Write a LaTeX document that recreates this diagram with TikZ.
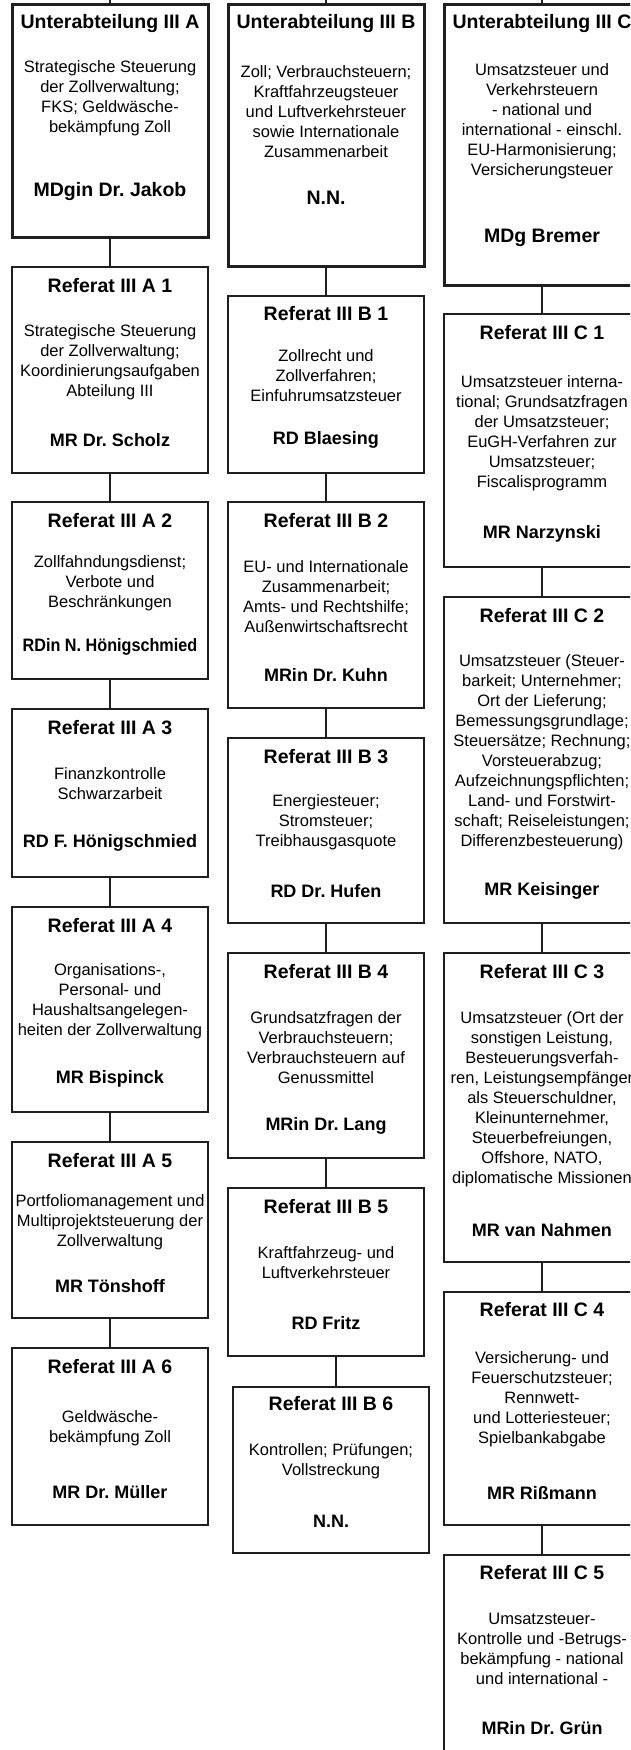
\documentclass[tikz,border=0pt]{standalone}
\usepackage{fontspec}
\setmainfont{Liberation Sans}
\begin{document}
\frenchspacing
\begin{tikzpicture}[x=1pt,y=-1pt,
  subbox/.style={draw=black!88, line width=3pt, rectangle, inner sep=0pt, minimum width=196pt},
  refbox/.style={draw=black!88, line width=1.3pt, rectangle, inner sep=0pt, minimum width=196pt},
  ttl/.style={inner sep=0pt, font=\frenchspacing\bfseries\fontsize{19.5}{23}\selectfont},
  unm/.style={inner sep=0pt, font=\frenchspacing\bfseries\fontsize{19.5}{23}\selectfont},
  nm/.style={inner sep=0pt, font=\frenchspacing\bfseries\fontsize{18}{22}\selectfont},
  body/.style={inner sep=0pt, align=center, font=\frenchspacing\fontsize{16.5}{20}\selectfont},
  conn/.style={draw=black!88, line width=1.3pt}]
\useasboundingbox (0,0) rectangle (630,1750);
\clip (0,0) rectangle (630,1750);
\fill[white] (0,0) rectangle (630,1750);

% ---------- column A ----------
\node[subbox, minimum height=232pt] (UA) at (110,121) {};
\node[ttl] (UAt) at (110,24) {Unterabteilung III A};
\node[body] (UAb) at (110,98.5) {Strategische Steuerung\\der Zollverwaltung;\\FKS; Geldwäsche-\\bekämpfung Zoll};
\node[unm] (UAn) at (110,192) {MDgin Dr. Jakob};

\node[refbox, minimum height=206pt] (A1) at (110,370) {};
\node[ttl] (A1t) at (110,286) {Referat III A 1};
\node[body] (A1b) at (110,362) {Strategische Steuerung\\der Zollverwaltung;\\Koordinierungsaufgaben\\Abteilung III};
\node[nm] (A1n) at (110,440) {MR Dr. Scholz};

\node[refbox, minimum height=177pt] (A2) at (110,590.5) {};
\node[ttl] (A2t) at (110,521) {Referat III A 2};
\node[body] (A2b) at (110,583) {Zollfahndungsdienst;\\Verbote und\\Beschränkungen};
\node[nm] (A2n) at (110,647) {\scalebox{0.9}[1]{RDin N. Hönigschmied}};

\node[refbox, minimum height=168pt] (A3) at (110,793) {};
\node[ttl] (A3t) at (110,728) {Referat III A 3};
\node[body] (A3b) at (110,784) {Finanzkontrolle\\Schwarzarbeit};
\node[nm] (A3n) at (110,843) {RD F. Hönigschmied};

\node[refbox, minimum height=205pt] (A4) at (110,1009.5) {};
\node[ttl] (A4t) at (110,926) {Referat III A 4};
\node[body] (A4b) at (110,1001) {Organisations-,\\Personal- und\\Haushaltsangelegen-\\heiten der Zollverwaltung};
\node[nm] (A4n) at (110,1079) {MR Bispinck};

\node[refbox, minimum height=176pt] (A5) at (110,1230) {};
\node[ttl] (A5t) at (110,1161) {Referat III A 5};
\node[body] (A5b) at (110,1222) {Portfoliomanagement und\\Multiprojektsteuerung der\\Zollverwaltung};
\node[nm] (A5n) at (110,1286) {MR Tönshoff};

\node[refbox, minimum height=177pt] (A6) at (110,1436.5) {};
\node[ttl] (A6t) at (110,1367) {Referat III A 6};
\node[body] (A6b) at (110,1428) {Geldwäsche-\\bekämpfung Zoll};
\node[nm] (A6n) at (110,1492) {MR Dr. Müller};

% ---------- column B ----------
\node[subbox, minimum height=261pt] (UB) at (326,135.5) {};
\node[ttl] (UBt) at (326,24) {Unterabteilung III B};
\node[body] (UBb) at (326,112) {Zoll; Verbrauchsteuern;\\Kraftfahrzeugsteuer\\und Luftverkehrsteuer\\sowie Internationale\\Zusammenarbeit};
\node[unm] (UBn) at (326,198) {N.N.};

\node[refbox, minimum height=177pt] (B1) at (326,384.5) {};
\node[ttl] (B1t) at (326,314) {Referat III B 1};
\node[body] (B1b) at (326,376) {Zollrecht und\\Zollverfahren;\\Einfuhrumsatzsteuer};
\node[nm] (B1n) at (326,440) {RD Blaesing};

\node[refbox, minimum height=206pt] (B2) at (326,605) {};
\node[ttl] (B2t) at (326,521) {Referat III B 2};
\node[body] (B2b) at (326,597) {EU- und Internationale\\Zusammenarbeit;\\Amts- und Rechtshilfe;\\Außenwirtschaftsrecht};
\node[nm] (B2n) at (326,675) {MRin Dr. Kuhn};

\node[refbox, minimum height=185pt] (B3) at (326,830.5) {};
\node[ttl] (B3t) at (326,757) {Referat III B 3};
\node[body] (B3b) at (326,822) {Energiesteuer;\\Stromsteuer;\\Treibhausgasquote};
\node[nm] (B3n) at (326,891) {RD Dr. Hufen};

\node[refbox, minimum height=205pt] (B4) at (326,1055.5) {};
\node[ttl] (B4t) at (326,972) {Referat III B 4};
\node[body] (B4b) at (326,1048) {Grundsatzfragen der\\Verbrauchsteuern;\\Verbrauchsteuern auf\\Genussmittel};
\node[nm] (B4n) at (326,1126) {MRin Dr. Lang};

\node[refbox, minimum height=168pt] (B5) at (326,1272) {};
\node[ttl] (B5t) at (326,1207) {Referat III B 5};
\node[body] (B5b) at (326,1263) {Kraftfahrzeug- und\\Luftverkehrsteuer};
\node[nm] (B5n) at (326,1323) {RD Fritz};

\node[refbox, minimum height=166pt] (B6) at (331,1470) {};
\node[ttl] (B6t) at (331,1404) {Referat III B 6};
\node[body] (B6b) at (331,1461.5) {Kontrollen; Prüfungen;\\Vollstreckung};
\node[nm] (B6n) at (331,1521) {N.N.};

% ---------- column C ----------
\node[subbox, minimum height=280pt] (UC) at (542,145) {};
\node[ttl] (UCt) at (542,24) {Unterabteilung III C};
\node[body] (UCb) at (542,121) {Umsatzsteuer und\\Verkehrsteuern\\- national und\\international - einschl.\\EU-Harmonisierung;\\Versicherungsteuer};
\node[unm] (UCn) at (542,238) {MDg Bremer};

\node[refbox, minimum height=253pt] (C1) at (542,440.5) {};
\node[ttl] (C1t) at (542,333) {Referat III C 1};
\node[body] (C1b) at (542,433) {Umsatzsteuer interna-\\tional; Grundsatzfragen\\der Umsatzsteuer;\\EuGH-Verfahren zur\\Umsatzsteuer;\\Fiscalisprogramm};
\node[nm] (C1n) at (542,534) {MR Narzynski};

\node[refbox, minimum height=326pt] (C2) at (542,760) {};
\node[ttl] (C2t) at (542,616) {Referat III C 2};
\node[body] (C2b) at (542,752) {Umsatzsteuer (Steuer-\\barkeit; Unternehmer;\\Ort der Lieferung;\\Bemessungsgrundlage;\\Steuersätze; Rechnung;\\Vorsteuerabzug;\\Aufzeichnungspflichten;\\Land- und Forstwirt-\\schaft; Reiseleistungen;\\Differenzbesteuerung)};
\node[nm] (C2n) at (542,891) {MR Keisinger};

\node[refbox, minimum height=309pt] (C3) at (542,1107.5) {};
\node[ttl] (C3t) at (542,972) {Referat III C 3};
\node[body] (C3b) at (542,1099) {Umsatzsteuer (Ort der\\sonstigen Leistung,\\Besteuerungsverfah-\\ren, Leistungsempfänger\\als Steuerschuldner,\\Kleinunternehmer,\\Steuerbefreiungen,\\Offshore, NATO,\\diplomatische Missionen};
\node[nm] (C3n) at (542,1230) {MR van Nahmen};

\node[refbox, minimum height=233pt] (C4) at (542,1408.5) {};
\node[ttl] (C4t) at (542,1310) {Referat III C 4};
\node[body] (C4b) at (542,1399.5) {Versicherung- und\\Feuerschutzsteuer;\\Rennwett-\\und Lotteriesteuer;\\Spielbankabgabe};
\node[nm] (C4n) at (542,1493) {MR Rißmann};

\node[refbox, minimum height=210pt] (C5) at (542,1660) {};
\node[ttl] (C5t) at (542,1573) {Referat III C 5};
\node[body] (C5b) at (542,1649) {Umsatzsteuer-\\Kontrolle und -Betrugs-\\bekämpfung - national\\und international -};
\node[nm] (C5n) at (542,1728) {MRin Dr. Grün};

% ---------- connectors ----------
\coordinate (topA) at (110,-5);
\coordinate (topB) at (326,-5);
\coordinate (topC) at (542,-5);
\draw[conn] (topA) -- (UA.north);
\draw[conn] (topB) -- (UB.north);
\draw[conn] (topC) -- (UC.north);

\draw[conn] (UA.south) -- (A1.north);
\draw[conn] (A1.south) -- (A2.north);
\draw[conn] (A2.south) -- (A3.north);
\draw[conn] (A3.south) -- (A4.north);
\draw[conn] (A4.south) -- (A5.north);
\draw[conn] (A5.south) -- (A6.north);

\draw[conn] (UB.south) -- (B1.north);
\draw[conn] (B1.south) -- (B2.north);
\draw[conn] (B2.south) -- (B3.north);
\draw[conn] (B3.south) -- (B4.north);
\draw[conn] (B4.south) -- (B5.north);
\draw[conn] ([xshift=10pt]B5.south) -- ([xshift=5pt]B6.north);

\draw[conn] (UC.south) -- (C1.north);
\draw[conn] (C1.south) -- (C2.north);
\draw[conn] (C2.south) -- (C3.north);
\draw[conn] (C3.south) -- (C4.north);
\draw[conn] (C4.south) -- (C5.north);
\end{tikzpicture}
\end{document}
